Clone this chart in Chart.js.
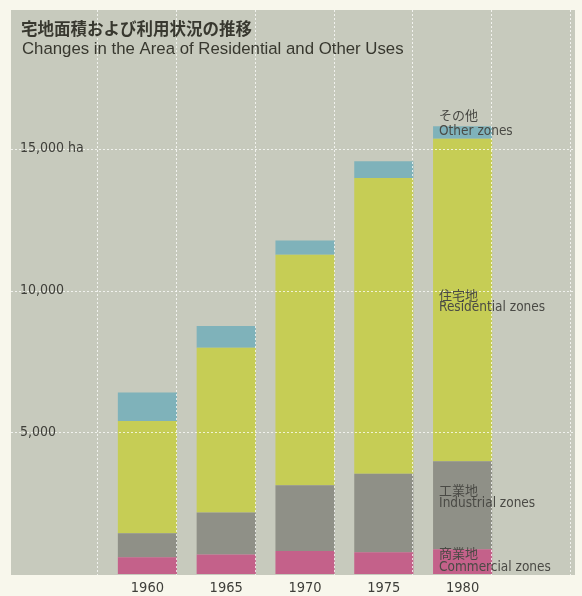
<!DOCTYPE html>
<html>
<head>
<meta charset="utf-8">
<script src="https://cdn.jsdelivr.net/npm/chart.js@4/dist/chart.umd.min.js"></script>
<style>
  html, body { margin: 0; padding: 0; background: #f8f7ec; }
  #wrap { width: 582px; height: 596px; }
</style>
</head>
<body>
<div id="wrap"><canvas id="c" width="582" height="596"></canvas></div>
<script>
// ---- data (hectares) ----
const years = ['1960', '1965', '1970', '1975', '1980'];
const commercial  = [590, 690, 810, 770, 870];
const industrial  = [850, 1480, 2320, 2770, 3110];
const residential = [3960, 5810, 8130, 10430, 11370];
const other       = [1000, 770, 500, 590, 440];
const yTickValues = [5000, 10000, 15000];
const yTickLabels = ['5,000', '10,000', '15,000 ha'];
const seriesJP = ['商業地', '工業地', '住宅地', 'その他'];
const seriesEN = ['Commercial zones', 'Industrial zones', 'Residential zones', 'Other zones'];
const titleJP = '宅地面積および利用状況の推移';
const titleEN = 'Changes in the Area of Residential and Other Uses';

// ---- styles ----
const colors = ['#c4618a', '#8f9087', '#c6cd55', '#7fb2ba'];
const NARROW = "'Liberation Sans Narrow', 'DejaVu Sans Condensed', 'Liberation Sans', sans-serif";
const CJK = "'Noto Sans CJK JP', sans-serif";
// label offsets relative to middle of the 1980 segment [jp, en]
const labelOffsets = [[-9, 5.5], [-15, -2], [-5, 8], [-18, -1]];

const plotBg = {
  id: 'plotBg',
  beforeDraw(chart) {
    const ctx = chart.ctx;
    ctx.save();
    ctx.fillStyle = '#c7cabd';
    ctx.fillRect(11, 10, 564, 565);
    ctx.restore();
  },
  afterDatasetsDraw(chart) {
    const ctx = chart.ctx;
    const xs = chart.scales.x, ys = chart.scales.y;
    const meta0 = chart.getDatasetMeta(0);
    const half = meta0.data[0].width / 2;
    ctx.save();
    ctx.strokeStyle = 'rgba(255,255,255,0.75)';
    ctx.lineWidth = 1;
    ctx.setLineDash([2, 2]);
    // horizontal grid
    yTickValues.forEach(v => {
      const y = Math.round(ys.getPixelForValue(v)) + 0.5;
      ctx.beginPath(); ctx.moveTo(11, y); ctx.lineTo(575, y); ctx.stroke();
    });
    // vertical grid at bar right edges
    for (let i = -1; i <= years.length; i++) {
      const x = Math.round(xs.getPixelForValue(i) + half) - 0.5;
      ctx.beginPath(); ctx.moveTo(x, 10); ctx.lineTo(x, 575); ctx.stroke();
    }
    ctx.setLineDash([]);
    // series labels beside last bar
    const last = years.length - 1;
    ctx.fillStyle = '#4a4a45';
    ctx.textAlign = 'left';
    ctx.textBaseline = 'middle';
    for (let d = 0; d < 4; d++) {
      const el = chart.getDatasetMeta(d).data[last];
      const mid = (el.y + el.base) / 2;
      const lx = el.x - el.width / 2 + 6;
      ctx.font = '13px ' + CJK;
      ctx.fillText(seriesJP[d], lx, mid + labelOffsets[d][0]);
      ctx.font = '13.5px ' + NARROW;
      ctx.fillText(seriesEN[d], lx, mid + labelOffsets[d][1]);
    }
    // title
    ctx.fillStyle = '#38382f';
    ctx.font = 'bold 16.5px ' + CJK;
    ctx.fillText(titleJP, 21, 28.5);
    ctx.textBaseline = 'alphabetic';
    ctx.font = '16.8px "Liberation Sans", Arial, sans-serif';
    ctx.fillText(titleEN, 22, 53.5);
    ctx.restore();
  }
};

new Chart(document.getElementById('c'), {
  type: 'bar',
  data: {
    labels: years,
    datasets: [
      { label: seriesEN[0], data: commercial,  backgroundColor: colors[0] },
      { label: seriesEN[1], data: industrial,  backgroundColor: colors[1] },
      { label: seriesEN[2], data: residential, backgroundColor: colors[2] },
      { label: seriesEN[3], data: other,       backgroundColor: colors[3] }
    ]
  },
  options: {
    responsive: false,
    animation: false,
    layout: { padding: { left: 20, right: 80, top: 7, bottom: 0 } },
    datasets: { bar: { barPercentage: 0.75, categoryPercentage: 1, borderWidth: 0 } },
    plugins: { legend: { display: false }, tooltip: { enabled: false }, title: { display: false } },
    scales: {
      x: {
        stacked: true,
        grid: { display: false, drawTicks: false },
        border: { display: false },
        ticks: { color: '#3f3f3a', font: { family: NARROW, size: 14.5 }, padding: 6, maxRotation: 0 },
        afterFit(scale) { scale.height = 22; scale.paddingLeft = 0; scale.paddingRight = 0; }
      },
      y: {
        stacked: true,
        min: 0, max: 20000,
        grid: { display: false, drawTicks: false },
        border: { display: false },
        ticks: {
          stepSize: 5000,
          crossAlign: 'far',
          color: '#3f3f3a',
          font: { family: NARROW, size: 14 },
          callback(v) { const i = yTickValues.indexOf(v); return i >= 0 ? yTickLabels[i] : ''; }
        },
        afterFit(scale) { scale.width = 88; scale.paddingTop = 0; scale.paddingBottom = 0; }
      }
    }
  },
  plugins: [plotBg]
});
</script>
</body>
</html>
